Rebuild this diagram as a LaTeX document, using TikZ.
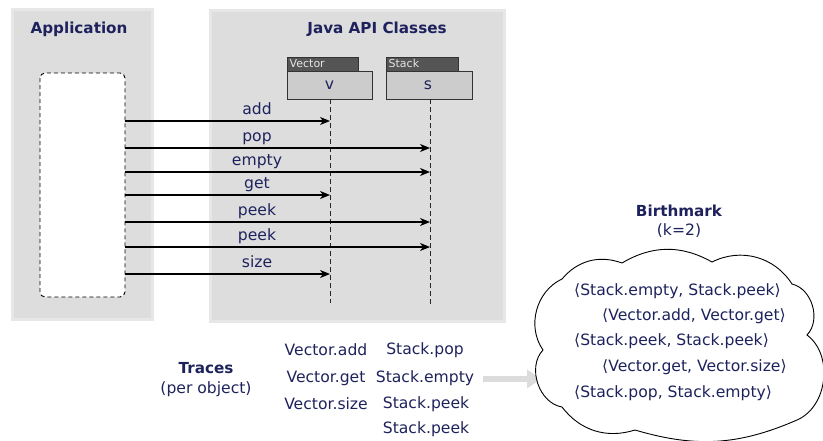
\documentclass[tikz,border=0pt]{standalone}
\usepackage{fontspec}
\setmainfont{DejaVu Sans}
\usetikzlibrary{arrows.meta}
\definecolor{navy}{RGB}{30,34,92}
\definecolor{panelgray}{RGB}{221,221,221}
\definecolor{paneledge}{RGB}{231,231,231}
\definecolor{tabgray}{RGB}{85,85,85}
\definecolor{boxgray}{RGB}{204,204,204}
\definecolor{flowgray}{RGB}{220,220,220}
\tikzset{
  txt/.style={text=navy,font=\fontsize{15.6}{17}\selectfont,inner sep=0pt},
  ttl/.style={text=navy,font=\fontsize{15.2}{17}\selectfont\bfseries,inner sep=0pt},
  tablabel/.style={text=white!90!black,font=\fontsize{11}{12}\selectfont,inner sep=0pt,anchor=west},
  tabbox/.style={draw=black!80,fill=tabgray,line width=0.8pt},
  objbox/.style={draw=black!80,fill=boxgray,line width=0.8pt},
  lifeline/.style={draw=black!85,dash pattern=on 5pt off 3pt,line width=1pt},
  msg/.style={draw=black,line width=1.2pt,-{Stealth[length=10pt,width=8pt,inset=3pt]}},
  cloudline/.style={draw=black,fill=white,line width=0.9pt},
}
\begin{document}
\begin{tikzpicture}[x=1pt,y=-1pt]
\useasboundingbox (0,0) rectangle (823,440);
% panels
\fill[paneledge] (11,8) rectangle (154,321);
\fill[panelgray] (14,11) rectangle (151,318);
\fill[paneledge] (209,9) rectangle (506,323);
\fill[panelgray] (212,12) rectangle (503,320);
\node[ttl] (apptitle) at (79,29) {Application};
\node[ttl] (javatitle) at (377,29) {Java API Classes};
% application box
\draw[fill=white,dash pattern=on 4pt off 3pt,line width=0.9pt,rounded corners=5pt] (40,73) rectangle (125,297);
% objects
\draw[tabbox] (287,57) rectangle (358,71);
\node[tablabel] (vtab) at (289.5,63.5) {Vector};
\draw[objbox] (287,71) rectangle (372,99);
\node[txt] (v) at (329.5,85) {v};
\draw[tabbox] (386,57) rectangle (458,71);
\node[tablabel] (stab) at (388.5,63.5) {Stack};
\draw[objbox] (386,71) rectangle (472,99);
\node[txt] (s) at (428,85) {s};
\coordinate (vtop) at (330,99);
\coordinate (vbot) at (330,303);
\coordinate (stop) at (430,99);
\coordinate (sbot) at (430,304);
\draw[lifeline] (vtop) -- (vbot);
\draw[lifeline] (stop) -- (sbot);
% messages
\foreach \y/\lab/\tx/\nm in {121/add/330/a1,148/pop/430/a2,172/empty/430/a3,195/get/330/a4,222/peek/430/a5,247/peek/430/a6,274/size/330/a7}{
  \coordinate (\nm s) at (125,\y);
  \coordinate (\nm e) at (\tx,\y);
  \draw[msg] (\nm s) -- (\nm e);
  \node[txt,anchor=base] (\nm l) at (257,\y-7) {\lab};
}
% traces
\node[ttl] (traces) at (206,368) {Traces};
\node[txt] (perobj) at (206,389) {(per object)};
\node[txt] (t1) at (326,350) {Vector.add};
\node[txt] (t2) at (326,378) {Vector.get};
\node[txt] (t3) at (326,404) {Vector.size};
\node[txt] (t4) at (425,350) {Stack.pop};
\node[txt] (t5) at (425,378) {Stack.empty};
\node[txt] (t6) at (426,404) {Stack.peek};
\node[txt] (t7) at (426,429) {Stack.peek};
% flow arrow
\coordinate (fa) at (483,379);
\coordinate (fb) at (541,379);
\draw[flowgray,line width=6pt,-{Triangle[length=14pt,width=18pt]}] (fa) -- (fb);
% birthmark
\node[ttl] (bm) at (679,211) {Birthmark};
\node[txt] (k) at (679,231) {(k=2)};
\path[cloudline] (543,350) to[bend left=50] (562,279) to[bend left=35] (622,263)
  to[bend left=30] (712,262) to[bend left=42] (792,284) to[bend left=60] (807,335)
  to[bend left=60] (797,420) to[bend left=20] (635,430)
  to[bend left=35] (562,407) to[bend left=62] cycle;
\node[txt,anchor=west] (b1) at (574,291) {⟨Stack.empty, Stack.peek⟩};
\node[txt,anchor=west] (b2) at (602,316) {⟨Vector.add, Vector.get⟩};
\node[txt,anchor=west] (b3) at (574,341) {⟨Stack.peek, Stack.peek⟩};
\node[txt,anchor=west] (b4) at (602,367) {⟨Vector.get, Vector.size⟩};
\node[txt,anchor=west] (b5) at (574,393) {⟨Stack.pop, Stack.empty⟩};
\end{tikzpicture}
\end{document}
